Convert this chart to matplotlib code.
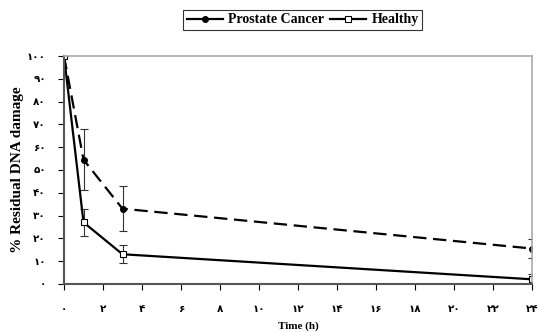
import matplotlib
matplotlib.use('Agg')
import matplotlib.pyplot as plt
from matplotlib.lines import Line2D

# data
time_h = [0, 1, 3, 24]
prostate = [100, 54.5, 33, 15.5]
prostate_err = [0, 13.5, 10, 4]
healthy = [100, 27, 13, 2]
healthy_err = [0, 6, 4, 2.5]

x_ticks = list(range(0, 25, 2))
y_ticks = list(range(0, 101, 10))


def to_persian(n):
    digits = '۰۱۲۳۴۵۶۷۸۹'
    return ''.join(digits[int(c)] for c in str(n))


fonts = ['Liberation Serif', 'DejaVu Sans']

fig = plt.figure(figsize=(5.38, 3.32), dpi=100)
ax = fig.add_axes([0.119, 0.145, 0.870, 0.686])

ax.errorbar(time_h, prostate, yerr=prostate_err, color='black', lw=1.6,
            ls=(0, (6, 3)), marker='o', ms=4, mfc='black', mec='black',
            ecolor='#333333', elinewidth=0.8, capsize=3, capthick=0.8)
ax.errorbar(time_h, healthy, yerr=healthy_err, color='black', lw=1.6,
            ls='-', marker='s', ms=5, mfc='white', mec='black', mew=0.8,
            ecolor='#333333', elinewidth=0.8, capsize=3, capthick=0.8)

ax.set_xlim(0, 24)
ax.set_ylim(0, 100)
ax.set_xticks(x_ticks)
ax.set_yticks(y_ticks)
ax.set_xticklabels([to_persian(v) for v in x_ticks], family=fonts,
                   fontsize=7.5, fontweight='bold')
ax.set_yticklabels([to_persian(v) for v in y_ticks], family=fonts,
                   fontsize=7.5, fontweight='bold')
ax.tick_params(axis='x', direction='out', length=4, width=0.8, pad=11)
ax.tick_params(axis='y', direction='out', length=4, width=0.8, pad=9)

for side in ['top', 'right']:
    ax.spines[side].set_color('#aaaaaa')
    ax.spines[side].set_linewidth(1.2)
for side in ['left', 'bottom']:
    ax.spines[side].set_color('#555555')
    ax.spines[side].set_linewidth(1.5)

ax.set_ylabel('% Residual DNA damage', family=fonts, fontsize=11,
              fontweight='bold')
ax.yaxis.set_label_coords(-0.085, 0.5)
ax.set_xlabel('Time (h)', family=fonts, fontsize=8, fontweight='bold',
              va='center')
ax.xaxis.set_label_coords(0.5, -0.185)

handles = [
    Line2D([], [], color='black', lw=1.6, marker='o', ms=4, mfc='black'),
    Line2D([], [], color='black', lw=1.6, marker='s', ms=4.5, mfc='white',
           mew=0.8),
]
leg = ax.legend(handles, ['Prostate Cancer', 'Healthy'], loc='lower center',
                bbox_to_anchor=(0.51, 1.115), ncol=2, frameon=True,
                fancybox=False, edgecolor='black',
                prop={'family': fonts, 'weight': 'bold', 'size': 10},
                handlelength=2.6, handletextpad=0.4, columnspacing=0.4,
                borderpad=0.25, borderaxespad=0)
leg.get_frame().set_linewidth(0.8)

fig.savefig('out.png', dpi=100)
